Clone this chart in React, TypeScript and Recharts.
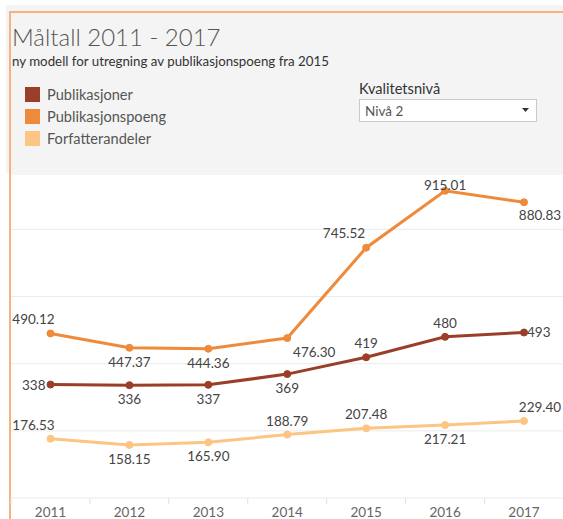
import React from 'react';
import { LineChart, Line, XAxis, YAxis, CartesianGrid, LabelList } from 'recharts';

const years = ['2011', '2012', '2013', '2014', '2015', '2016', '2017'];
const publikasjoner = [338, 336, 337, 369, 419, 480, 493];
const publikasjonspoeng = [490.12, 447.37, 444.36, 476.3, 745.52, 915.01, 880.83];
const forfatterandeler = [176.53, 158.15, 165.9, 188.79, 207.48, 217.21, 229.4];
const gridTicks = [0, 200, 400, 600, 800];

const seriesNames = ['Publikasjoner', 'Publikasjonspoeng', 'Forfatterandeler'];
const seriesKeys = ['pub', 'poeng', 'forf'];
const seriesColors = ['#9b3e28', '#ee8a3a', '#fdc582'];

const placePub = ['left', 'below', 'below', 'below', 'above', 'above', 'right'];
const placePoeng = ['aboveEdgeL', 'below', 'below', 'belowRight', 'aboveLeft', 'aboveTight', 'belowEdgeR'];
const placeForf = ['aboveEdgeL', 'below', 'below', 'above', 'above', 'below', 'aboveEdgeR'];

const data = years.map((y, i) => ({
  year: y,
  pub: publikasjoner[i],
  poeng: publikasjonspoeng[i],
  forf: forfatterandeler[i],
}));

const offsets: Record<string, [string, number, number]> = {
  above: ['middle', 0, -14],
  below: ['middle', 0, 14],
  left: ['end', -5, 0],
  right: ['start', 3, 0],
  aboveEdgeL: ['middle', -17, -14],
  belowRight: ['middle', 27, 14],
  aboveLeft: ['end', -1, -15],
  aboveTight: ['middle', 0, -6],
  belowEdgeR: ['middle', 16, 13],
  aboveEdgeR: ['middle', 16, -14],
};

const makeLabel = (places: string[], decimals: number) => (props: any) => {
  const { x, y, value, index } = props;
  if (x == null || y == null) return null;
  const [anchor, dx, dy] = offsets[places[index]] || offsets.above;
  return (
    <text
      x={x + dx}
      y={y + dy}
      textAnchor={anchor}
      dominantBaseline="central"
      fontFamily="Lato, sans-serif"
      fontSize={13.5}
      fill="#444"
    >
      {Number(value).toFixed(decimals)}
    </text>
  );
};

const YearTick = (props: any) => {
  const { x, payload } = props;
  const axisY = 498;
  return (
    <g>
      <line x1={x - 39.5} x2={x - 39.5} y1={axisY} y2={axisY + 6} stroke="#e2e2e2" />
      <text
        x={x}
        y={axisY + 14}
        textAnchor="middle"
        dominantBaseline="central"
        fontFamily="Lato, sans-serif"
        fontSize={13.5}
        fill="#666"
      >
        {payload.value}
      </text>
    </g>
  );
};

const legendRows = [87, 109, 131];

export default function App() {
  return (
    <div style={{ position: 'absolute', left: 0, top: 0, width: 563, height: 519, overflow: 'hidden', background: '#fff' }}>
      <div style={{ position: 'absolute', left: 6, top: 5, width: 557, height: 168, background: '#f4f4f4' }} />
      <div style={{ position: 'absolute', left: 11, top: 173, width: 552, height: 346, background: '#fff' }} />
      <div style={{ position: 'absolute', left: 9, top: 11, width: 554, height: 2, background: '#f4b380' }} />
      <div style={{ position: 'absolute', left: 9, top: 11, width: 2, height: 508, background: '#f4b380' }} />
      <svg style={{ position: 'absolute', left: 0, top: 0 }} width={563} height={173}>
        <text x={12} y={46} fontFamily="Lato, sans-serif" fontSize={24} fontWeight={300} fill="#555">
          Måltall 2011 - 2017
        </text>
        <text x={12} y={66} fontFamily="Lato, sans-serif" fontSize={13.3} fill="#333">
          ny modell for utregning av publikasjonspoeng fra 2015
        </text>
        {seriesNames.map((n, i) => (
          <g key={n}>
            <rect x={25} y={legendRows[i]} width={15} height={15} fill={seriesColors[i]} />
            <text x={47} y={legendRows[i] + 12.5} fontFamily="Lato, sans-serif" fontSize={14.6} fill="#555">
              {n}
            </text>
          </g>
        ))}
        <text x={359} y={94} fontFamily="Lato, sans-serif" fontSize={14.6} fill="#333">
          Kvalitetsnivå
        </text>
        <rect x={359.5} y={99.5} width={177} height={22} fill="#fff" stroke="#c9c9c9" />
        <text x={365} y={115.5} fontFamily="Lato, sans-serif" fontSize={13.5} fill="#555">
          Nivå 2
        </text>
        <path d="M522,108 L529,108 L525.5,112 Z" fill="#333" />
      </svg>
      <div style={{ position: 'absolute', left: 0, top: 0 }}>
        <LineChart width={563} height={519} data={data} margin={{ top: 174, right: 0, bottom: 0, left: 11 }}>
          <CartesianGrid vertical={false} stroke="#ebebeb" />
          <YAxis hide domain={[0, 965]} ticks={gridTicks} />
          <XAxis
            dataKey="year"
            height={21}
            padding={{ left: 39.5, right: 39 }}
            axisLine={false}
            tickLine={false}
            tickSize={0}
            tickMargin={0}
            interval={0}
            tick={<YearTick />}
          />
          {seriesKeys.map((k, i) => (
            <Line
              key={k}
              type="linear"
              dataKey={k}
              stroke={seriesColors[i]}
              strokeWidth={3}
              dot={{ r: 3.5, fill: seriesColors[i], stroke: seriesColors[i], strokeWidth: 1 }}
              activeDot={false}
              isAnimationActive={false}
            >
              <LabelList
                dataKey={k}
                content={makeLabel([placePub, placePoeng, placeForf][i], i === 0 ? 0 : 2)}
              />
            </Line>
          ))}
        </LineChart>
      </div>
    </div>
  );
}
